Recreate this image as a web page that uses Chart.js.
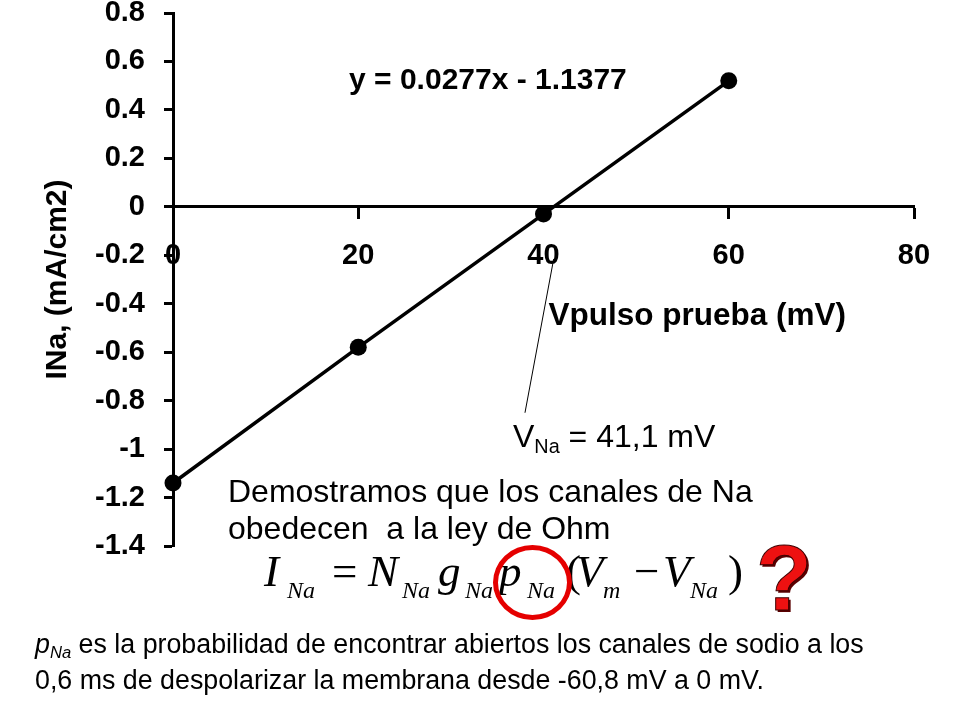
<!DOCTYPE html>
<html>
<head>
<meta charset="utf-8">
<script src="https://cdn.jsdelivr.net/npm/chart.js@4.4.1/dist/chart.umd.min.js"></script>
<style>
  html, body { margin: 0; padding: 0; background: #fff; }
  #slide { position: relative; width: 960px; height: 720px; overflow: hidden; font-family: "Liberation Sans", Arial, sans-serif; color: #000; }
  #chart { position: absolute; left: 0; top: 0; }
  .txt { position: absolute; white-space: nowrap; }
  .sub { font-size: 0.62em; position: relative; top: 0.3em; }
  .m { position: absolute; font-family: "Liberation Serif", "Times New Roman", serif; font-style: italic; line-height: 1; white-space: nowrap; }
  .big { font-size: 45px; top: 549px; }
  .sm { font-size: 24px; top: 578px; }
  .up { font-style: normal; }
</style>
</head>
<body>
<div id="slide">
  <canvas id="chart" width="960" height="720"></canvas>

  <div class="txt" style="left:513px; top:420px; font-size:32px; line-height:1;">V<span class="sub">Na</span> = 41,1 mV</div>

  <div class="txt" style="left:228px; top:473px; font-size:32px; line-height:37px;">Demostramos que los canales de Na<br>obedecen&nbsp; a la ley de Ohm</div>

  <!-- I_Na = N_Na g_Na p_Na (V_m - V_Na) -->
  <span class="m big" style="left:264px;">I</span>
  <span class="m sm" style="left:287px;">Na</span>
  <span class="m big up" style="left:332px;">=</span>
  <span class="m big" style="left:368px;">N</span>
  <span class="m sm" style="left:402px;">Na</span>
  <span class="m big" style="left:438px;">g</span>
  <span class="m sm" style="left:465px;">Na</span>
  <span class="m big" style="left:499px;">p</span>
  <span class="m sm" style="left:527px;">Na</span>
  <span class="m big up" style="left:566px;">(</span>
  <span class="m big" style="left:576px;">V</span>
  <span class="m sm" style="left:603px;">m</span>
  <span class="m big up" style="left:634px;">&minus;</span>
  <span class="m big" style="left:663px;">V</span>
  <span class="m sm" style="left:690px;">Na</span>
  <span class="m big up" style="left:728px;">)</span>

  <div style="position:absolute; left:493px; top:545px; width:79px; height:75px; box-sizing:border-box; border:5px solid #e50000; border-radius:50%;"></div>

  <div class="txt" style="left:756px; top:532px; font-size:92px; line-height:1; font-weight:bold; color:#ee1111; -webkit-text-stroke:1px #3a0000; text-shadow:2px 2px 0 #5a0000;">?</div>

  <div class="txt" style="left:35px; top:628px; font-size:26.8px; line-height:33px;"><i>p<span class="sub">Na</span></i> es la probabilidad de encontrar abiertos los canales de sodio a los<br>0,6 ms de despolarizar la membrana desde -60,8 mV a 0 mV.</div>
</div>

<script>
// test pulse voltage (mV) and measured sodium current (mA/cm2)
const vPulse = [0, 20, 40, 60];
const iNa = [-1.14, -0.58, -0.03, 0.52];

const xTickValues = [0, 20, 40, 60, 80];
const yTickValues = [0.8, 0.6, 0.4, 0.2, 0, -0.2, -0.4, -0.6, -0.8, -1, -1.2, -1.4];

const xTitle = 'Vpulso prueba (mV)';
const yTitle = 'INa, (mA/cm2)';
const fitLabel = 'y = 0.0277x - 1.1377';

const FONT = '"Liberation Sans", Arial, sans-serif';

function fmt(v) {
  return String(Math.round(v * 10) / 10);
}

// trendline equation, x axis title and the V_Na pointer
const notes = {
  id: 'notes',
  afterDraw(chart) {
    const { ctx, scales: { x, y } } = chart;
    ctx.save();
    ctx.fillStyle = '#000';
    ctx.textAlign = 'center';
    ctx.textBaseline = 'middle';
    ctx.font = 'bold 30px ' + FONT;
    ctx.fillText(fitLabel, x.getPixelForValue(34), y.getPixelForValue(0.52));
    ctx.font = 'bold 31.5px ' + FONT;
    ctx.fillText(xTitle, x.getPixelForValue(56.6), y.getPixelForValue(-0.45));

    ctx.strokeStyle = '#000';
    ctx.lineWidth = 1;
    ctx.beginPath();
    ctx.moveTo(x.getPixelForValue(41.1), y.getPixelForValue(-0.215));
    ctx.lineTo(x.getPixelForValue(38), y.getPixelForValue(-0.85));
    ctx.stroke();
    ctx.restore();
  }
};

const tickFont = { family: FONT, size: 29, weight: 'bold' };

new Chart(document.getElementById('chart'), {
  type: 'scatter',
  data: {
    datasets: [{
      data: vPulse.map((v, i) => ({ x: v, y: iNa[i] })),
      showLine: true,
      borderColor: '#000',
      borderWidth: 3.5,
      pointRadius: 8.5,
      pointBackgroundColor: '#000',
      pointBorderColor: '#000',
      pointBorderWidth: 0,
      clip: false
    }]
  },
  options: {
    responsive: false,
    animation: false,
    events: [],
    layout: { padding: { left: 0, right: 46, top: 13, bottom: 174 } },
    plugins: { legend: { display: false }, tooltip: { enabled: false } },
    scales: {
      x: {
        type: 'linear',
        position: { y: 0 },
        min: Math.min(...xTickValues),
        max: Math.max(...xTickValues),
        afterBuildTicks: s => { s.ticks = xTickValues.map(v => ({ value: v })); },
        grid: { drawOnChartArea: false, tickLength: 11, tickWidth: 3, tickColor: '#000' },
        border: { color: '#000', width: 3 },
        ticks: { font: tickFont, color: '#000', padding: 21, maxRotation: 0, callback: fmt }
      },
      y: {
        position: 'left',
        min: Math.min(...yTickValues),
        max: Math.max(...yTickValues),
        afterBuildTicks: s => { s.ticks = yTickValues.map(v => ({ value: v })); },
        afterFit: s => { s.width = 173; s.paddingTop = 0; s.paddingBottom = 0; },
        grid: { drawOnChartArea: false, tickLength: 9, tickWidth: 3, tickColor: '#000' },
        border: { color: '#000', width: 3 },
        ticks: { font: tickFont, color: '#000', padding: 19, callback: fmt },
        title: { display: true, text: yTitle, color: '#000', font: { family: FONT, size: 30, weight: 'bold' }, padding: { top: 40, bottom: 0 } }
      }
    }
  },
  plugins: [notes]
});
</script>
</body>
</html>
